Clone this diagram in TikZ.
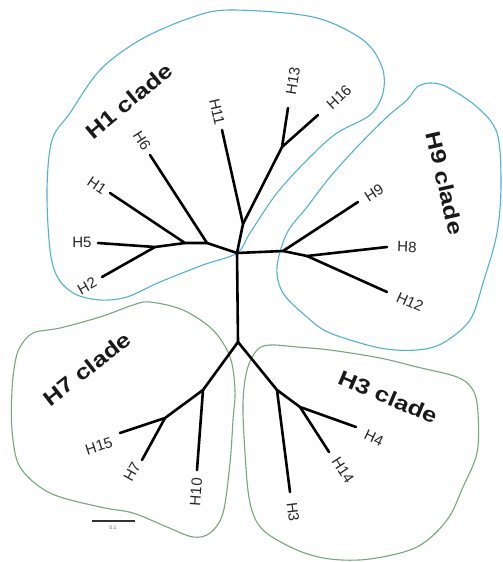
\documentclass[tikz,border=0pt]{standalone}
\usepackage{fontspec}
\setmainfont{Liberation Sans}
\definecolor{cladeblue}{RGB}{80,178,210}
\definecolor{cladegreen}{RGB}{118,166,124}
\tikzset{
  branch/.style={line width=2.6pt, line join=round, line cap=round, black},
  blobblue/.style={cladeblue, line width=1.1pt},
  blobgreen/.style={cladegreen, line width=1.1pt},
  tip/.style={inner sep=0pt, font=\fontsize{15}{15}\selectfont, text=black!85},
  cladelbl/.style={inner sep=0pt, font=\fontsize{21}{21}\selectfont\bfseries, text=black!90},
}
\newcommand{\wide}[1]{\scalebox{1.22}[1]{#1}}
\begin{document}
\begin{tikzpicture}[x=1pt, y=-1pt]
\useasboundingbox (0,0) rectangle (503,562);

% clade outlines
\draw[blobblue] plot[smooth cycle, tension=0.55] coordinates {
  (47,190) (52,140) (70,113) (100,70) (140,40) (190,18) (230,10) (313,17)
  (363,40) (382,67) (383,93) (370,115) (337,133) (310,157) (277,193)
  (250,233) (237,253) (203,265) (160,282) (127,297) (100,300) (75,294)
  (58,278) (50,250)};
\draw[blobblue] plot[smooth cycle, tension=0.55] coordinates {
  (430,83) (447,87) (477,107) (497,133) (501,183) (497,233) (483,283)
  (470,320) (443,343) (417,350) (380,348) (330,333) (307,317) (283,293)
  (277,267) (287,233) (307,207) (330,177) (357,147) (387,117) (407,100)
  (417,87)};
\draw[blobgreen] plot[smooth cycle, tension=0.55] coordinates {
  (20,347) (33,333) (60,328) (100,317) (133,305) (150,302) (183,310)
  (213,330) (230,357) (235,390) (233,420) (230,463) (223,513) (210,533)
  (193,537) (167,527) (133,513) (100,507) (50,493) (20,467) (12,430)
  (12,390) (15,363)};
\draw[blobgreen] plot[smooth cycle, tension=0.55] coordinates {
  (270,345) (257,350) (247,370) (243,403) (245,453) (250,503) (263,530)
  (297,550) (330,559) (370,559) (417,547) (447,520) (463,487) (477,453)
  (478,413) (473,390) (457,377) (417,367) (380,358) (330,350) (297,347)};

% internal nodes of the tree
\coordinate (c)   at (237,253);
\coordinate (up)  at (243,224);
\coordinate (u2)  at (282,147);
\coordinate (l1)  at (207,243);
\coordinate (l2)  at (185,243);
\coordinate (l3)  at (155,247);
\coordinate (r1)  at (283,251);
\coordinate (r2)  at (307,256);
\coordinate (b)   at (238,342);
\coordinate (bl)  at (203,390);
\coordinate (bl2) at (165,418);
\coordinate (br)  at (277,390);
\coordinate (br2) at (300,407);

% tips
\coordinate (t11) at (222,130);
\coordinate (t13) at (288,108);
\coordinate (t16) at (318,115);
\coordinate (t6)  at (150,155);
\coordinate (t1)  at (110,193);
\coordinate (t5)  at (98,243);
\coordinate (t2)  at (102,277);
\coordinate (t9)  at (358,202);
\coordinate (t8)  at (387,247);
\coordinate (t12) at (387,292);
\coordinate (t15) at (120,433);
\coordinate (t7)  at (142,460);
\coordinate (t10) at (197,470);
\coordinate (t4)  at (356,427);
\coordinate (t14) at (329,452);
\coordinate (t3)  at (290,492);

% branches
\draw[branch] (c) -- (up) -- (t11);
\draw[branch] (up) -- (u2) -- (t13);
\draw[branch] (u2) -- (t16);
\draw[branch] (c) -- (l1) -- (t6);
\draw[branch] (l1) -- (l2) -- (t1);
\draw[branch] (l2) -- (l3) -- (t5);
\draw[branch] (l3) -- (t2);
\draw[branch] (c) -- (r1) -- (t9);
\draw[branch] (r1) -- (r2) -- (t8);
\draw[branch] (r2) -- (t12);
\draw[branch] (c) -- (b);
\draw[branch] (b) -- (bl) -- (bl2) -- (t15);
\draw[branch] (bl2) -- (t7);
\draw[branch] (bl) -- (t10);
\draw[branch] (b) -- (br) -- (br2) -- (t4);
\draw[branch] (br2) -- (t14);
\draw[branch] (br) -- (t3);

% tip labels
\node[tip, rotate=-77] (n11) at (217,112) {H11};
\node[tip, rotate=81]  (n13) at (293,81)  {H13};
\node[tip, rotate=43]  (n16) at (339,97)  {H16};
\node[tip, rotate=-57] (n6)  at (142,141) {H6};
\node[tip, rotate=-34] (n1)  at (97,186)  {H1};
\node[tip]             (n5)  at (82,242)  {H5};
\node[tip, rotate=29]  (n2)  at (87,286)  {H2};
\node[tip, rotate=33]  (n9)  at (374,193) {H9};
\node[tip, rotate=-2]  (n8)  at (407,247) {H8};
\node[tip, rotate=-24] (n12) at (410,302) {H12};
\node[tip, rotate=18]  (n15) at (99,446)  {H15};
\node[tip, rotate=61]  (n7)  at (132,472) {H7};
\node[tip, rotate=86]  (n10) at (196,492) {H10};
\node[tip, rotate=-25] (n4)  at (374,438) {H4};
\node[tip, rotate=-57] (n14) at (343,470) {H14};
\node[tip, rotate=-83] (n3)  at (293,512) {H3};

% clade names
\node[cladelbl, rotate=40]  (cH1) at (129,101) {\wide{H1 clade}};
\node[cladelbl, rotate=-77] (cH9) at (445,183) {\wide{H9 clade}};
\node[cladelbl, rotate=38]  (cH7) at (87,369)  {\wide{H7 clade}};
\node[cladelbl, rotate=-23] (cH3) at (388,397) {\wide{H3 clade}};

% scale bar
\coordinate (s0) at (92,521);
\coordinate (s1) at (135,521);
\draw[line width=1.2pt, black!80] (s0) -- (s1);
\node[inner sep=0pt, font=\fontsize{5}{5}\selectfont, text=black!60] (sl) at (113,528) {0.1};
\end{tikzpicture}
\end{document}
